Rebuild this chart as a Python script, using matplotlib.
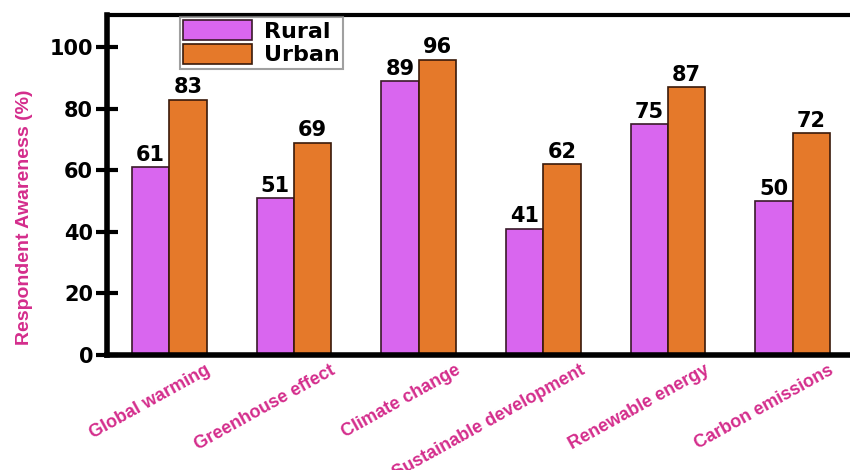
import matplotlib.pyplot as plt
import matplotlib.transforms as mtransforms
import numpy as np

categories = ['Global warming', 'Greenhouse effect', 'Climate change',
              'Sustainable development', 'Renewable energy', 'Carbon emissions']
rural = [61, 51, 89, 41, 75, 50]
urban = [83, 69, 96, 62, 87, 72]

plt.rcParams['font.family'] = ['Liberation Sans', 'DejaVu Sans']
num_font = {'family': 'DejaVu Sans', 'weight': 'bold'}

fig = plt.figure(figsize=(8.5, 4.7), dpi=100)
ax = fig.add_axes([0.126, 0.245, 0.874, 0.723])

x = np.arange(len(categories))
w = 0.3
b1 = ax.bar(x - w / 2, rural, w, color='#d966ef', edgecolor='#3a1a2a', linewidth=1.2, label='Rural')
b2 = ax.bar(x + w / 2, urban, w, color='#e5792a', edgecolor='#3a1a0a', linewidth=1.2, label='Urban')

for bars, vals in [(b1, rural), (b2, urban)]:
    for bar, v in zip(bars, vals):
        ax.text(bar.get_x() + bar.get_width() / 2, v + 0.8, str(v), ha='center', va='bottom',
                fontsize=15, **num_font)

ax.set_xlim(-0.5, 5.46)
ax.set_ylim(0, 110.5)
ax.set_yticks([0, 20, 40, 60, 80, 100])
ax.tick_params(axis='y', direction='inout', length=16, width=3, labelsize=15, pad=2)
for lab in ax.get_yticklabels():
    lab.set_fontweight('bold')
    lab.set_family('DejaVu Sans')

ax.set_xticks(x)
ax.set_xticklabels(categories, rotation=29, ha='right', va='top', rotation_mode='anchor',
                   color='#d42d8c', fontsize=13, fontweight='bold')
ax.tick_params(axis='x', length=0, pad=5)
offset = mtransforms.ScaledTranslation(0.36, 0.0, fig.dpi_scale_trans)
for lab in ax.get_xticklabels():
    lab.set_transform(lab.get_transform() + offset)

ax.spines['right'].set_visible(False)
ax.spines['left'].set_linewidth(4)
ax.spines['bottom'].set_linewidth(4)
ax.spines['top'].set_linewidth(3)

ax.set_ylabel('Respondent Awareness (%)', color='#d42d8c', fontsize=14, fontweight='bold')
ax.yaxis.set_label_coords(-0.1, 0.405)

leg = ax.legend(loc='upper left', bbox_to_anchor=(0.098, 0.995),
                prop={'family': 'DejaVu Sans', 'weight': 'bold', 'size': 16},
                fancybox=False, frameon=True,
                handlelength=3.1, handleheight=1.0, borderpad=0.15, labelspacing=0.1,
                handletextpad=0.55, borderaxespad=0.0)
leg.get_frame().set_edgecolor('#888888')
leg.get_frame().set_linewidth(1.5)

plt.savefig('out.png', dpi=100)
